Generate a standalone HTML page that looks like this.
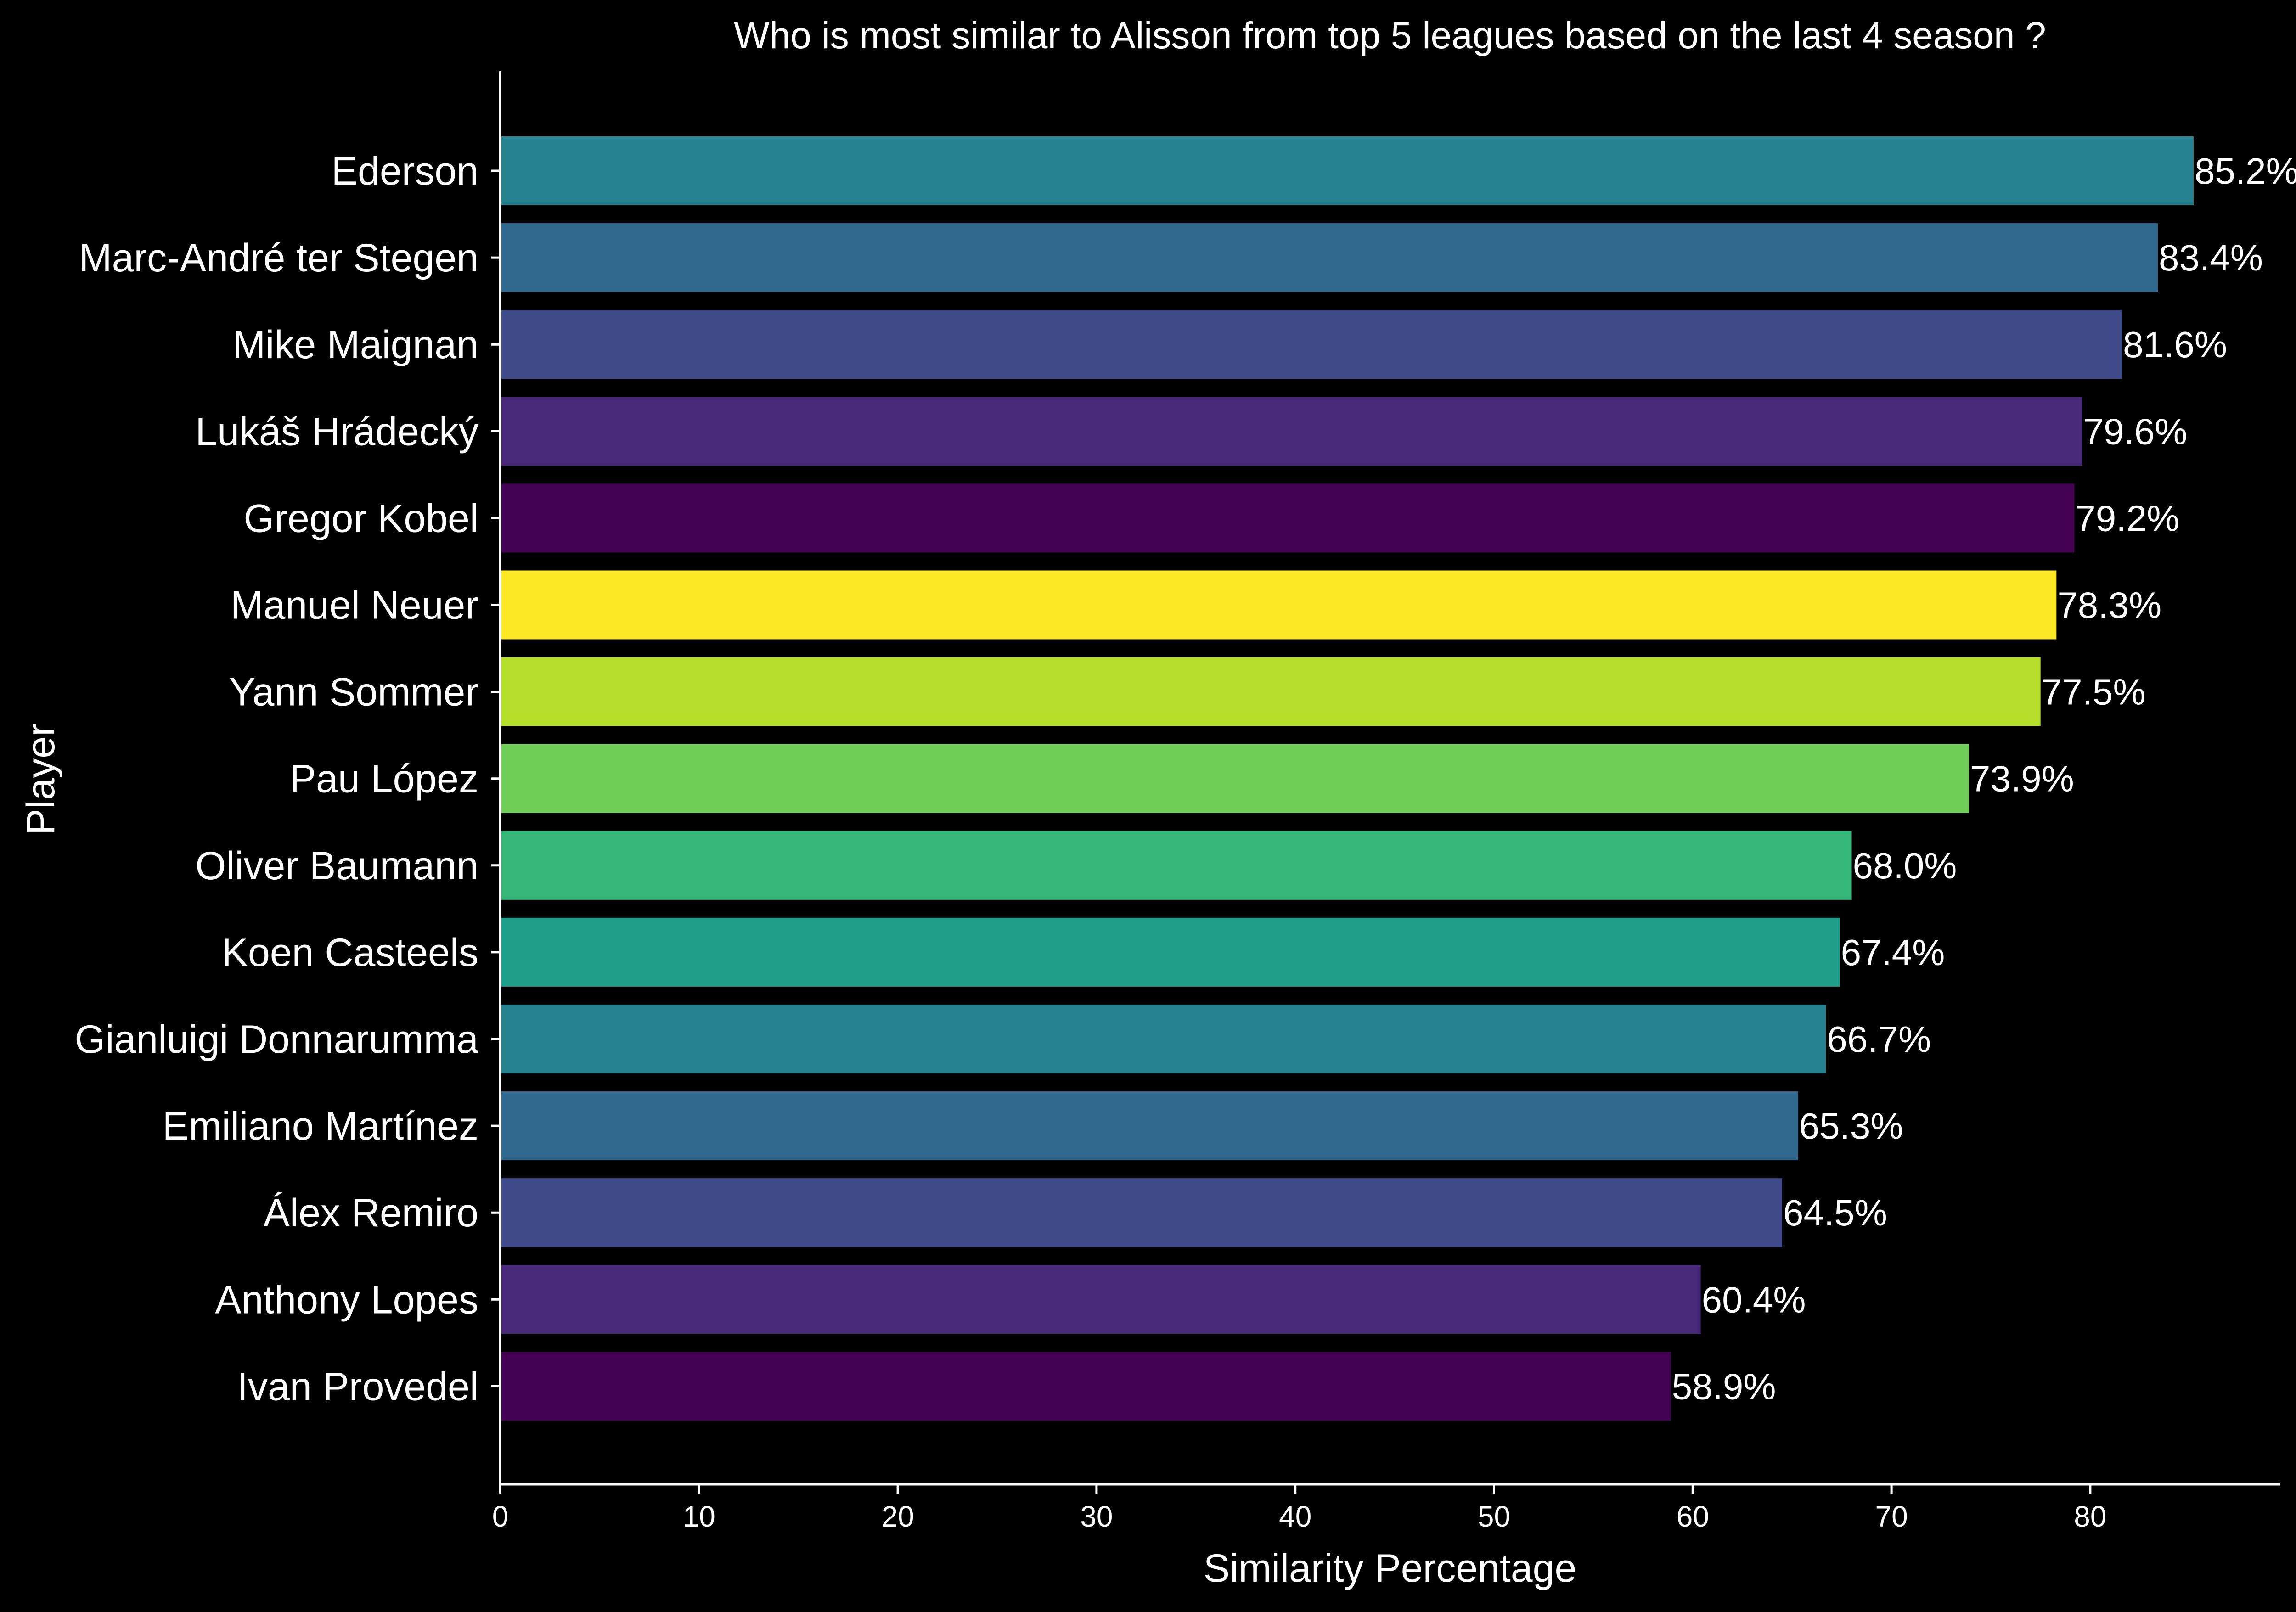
<!DOCTYPE html>
<html><head><meta charset="utf-8"><style>
html,body{margin:0;padding:0;background:#000;}
svg{display:block;font-family:"Liberation Sans",sans-serif;}
</style></head><body>
<svg id="chart" width="5069" height="3511" viewBox="0 0 5069 3511" xmlns="http://www.w3.org/2000/svg">
<rect width="5069" height="3511" fill="#000"/>
<text x="3027" y="105" fill="#fff" font-size="82" text-anchor="middle">Who is most similar to Alisson from top 5 leagues based on the last 4 season ?</text>
<text x="3027" y="3445" fill="#fff" font-size="86" text-anchor="middle">Similarity Percentage</text>
<text transform="translate(118,1697) rotate(-90)" fill="#fff" font-size="86" text-anchor="middle">Player</text>
<g id="bars"></g>
<line x1="1089.5" y1="155" x2="1089.5" y2="3233" stroke="#fff" stroke-width="5"/>
<line x1="1087" y1="3233" x2="4966" y2="3233" stroke="#fff" stroke-width="5"/>
</svg>
<script>
const players=["Ederson","Marc-André ter Stegen","Mike Maignan","Lukáš Hrádecký","Gregor Kobel","Manuel Neuer","Yann Sommer","Pau López","Oliver Baumann","Koen Casteels","Gianluigi Donnarumma","Emiliano Martínez","Álex Remiro","Anthony Lopes","Ivan Provedel"];
const values=[85.2,83.4,81.6,79.6,79.2,78.3,77.5,73.9,68.0,67.4,66.7,65.3,64.5,60.4,58.9];
const colors=["#26828e","#31688e","#3e4a89","#482878","#440154","#fde725","#b5de2b","#6ece58","#35b779","#1f9e89","#26828e","#31688e","#3e4a89","#482878","#440154"];
const xTicks=[0,10,20,30,40,50,60,70,80];
const NS="http://www.w3.org/2000/svg";
const g=document.getElementById('bars');
const x=v=>1089.5+v*43.28;
const y=i=>372+i*189.1;
const bh=150;
function mk(t,a,p){const e=document.createElementNS(NS,t);for(const k in a)e.setAttribute(k,a[k]);(p||g).appendChild(e);return e;}
players.forEach((p,i)=>{
  const r=mk('rect',{x:x(0),y:y(i)-bh/2,width:x(values[i])-x(0),height:bh,fill:colors[i]});
  
  
  const v=mk('text',{x:x(values[i])+2,y:y(i)+28,fill:'#fff','font-size':80});
  v.textContent=values[i].toFixed(1)+'%';
  
  
  const l=mk('text',{x:1042,y:y(i)+30,fill:'#fff','font-size':86,'text-anchor':'end'});
  l.textContent=p;
  
  
  const tk=mk('line',{x1:1070,x2:1089.5,y1:y(i),y2:y(i),stroke:'#fff','stroke-width':5});
  
  
});
xTicks.forEach(t=>{
  const tk=mk('line',{x1:x(t),x2:x(t),y1:3233,y2:3253,stroke:'#fff','stroke-width':5});
  
  
  const l=mk('text',{x:x(t),y:3325,fill:'#fff','font-size':64,'text-anchor':'middle'});
  l.textContent=t;
  
  
});
</script>
</body></html>
